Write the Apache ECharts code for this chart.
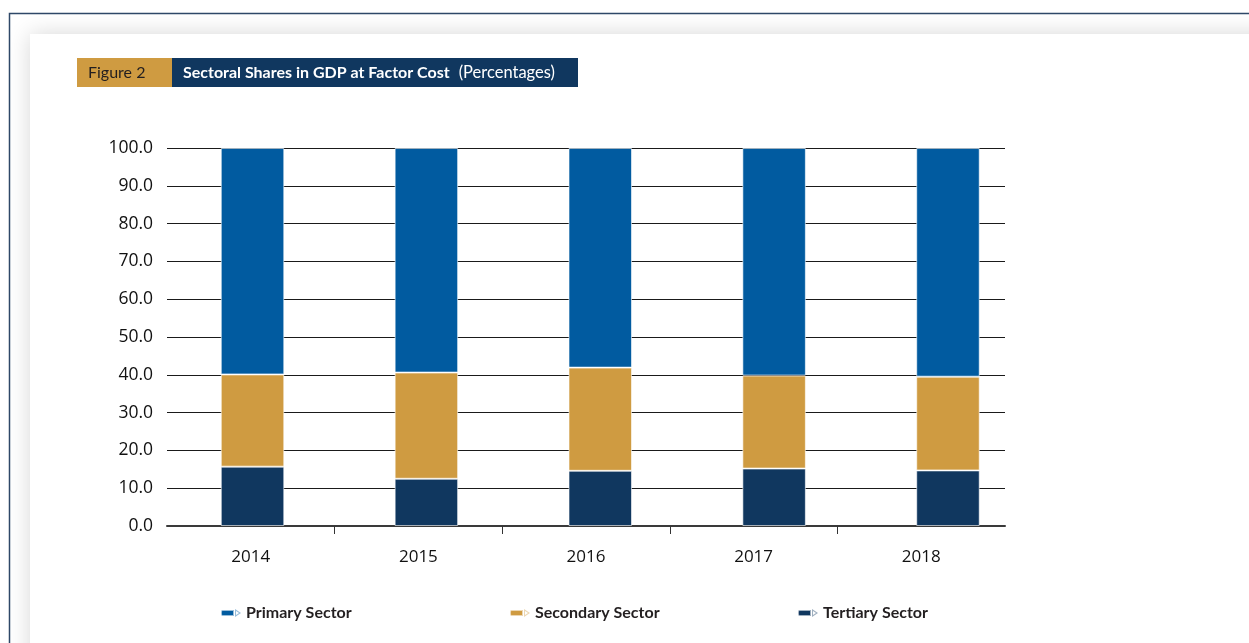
<!DOCTYPE html>
<html>
<head>
<meta charset="utf-8">
<script src="https://cdn.jsdelivr.net/npm/echarts@6/dist/echarts.min.js"></script>
<style>
    html, body { margin: 0; padding: 0; background: #fff; }
    #main { width: 1249px; height: 643px; }
</style>
</head>
<body>
<div id="main"></div>
<script>
var years = ['2014', '2015', '2016', '2017', '2018'];
var tertiary = [15.7, 12.5, 14.6, 15.2, 14.7];
var secondary = [24.4, 28.1, 27.3, 24.6, 24.8];
var primary = [59.9, 59.4, 58.1, 60.2, 60.5];
var legendNames = ['Primary Sector', 'Secondary Sector', 'Tertiary Sector'];
var tickSlots = ['', '', '', '', '', ''];   // boundaries between years

var cBlue = '#015ba0', cGold = '#cf9b41', cNavy = '#10375f';
var pencil = 'path://M1,1 L13,1 L13,7 L1,7 Q0,7 0,4 Q0,1 1,1 Z M14,0 L20,4 L14,8 Z M15,2 L15,6 L18,4 Z';

var chart = echarts.init(document.getElementById('main'));

function legendAt(name, left) {
    return {
        data: [name],
        left: left,
        top: 605,
        padding: 0,
        icon: pencil,
        itemWidth: 20,
        itemHeight: 9,
        itemGap: 5,
        textStyle: { fontFamily: 'Lato', fontWeight: 'bold', fontSize: 16, color: '#231f20' }
    };
}

var option = {
    animation: false,
    color: [cNavy, cGold, cBlue],
    graphic: [
        // outer frame + soft inner panel
        { type: 'rect', shape: { x: 9.5, y: 13.5, width: 1300, height: 700 },
          style: { fill: '#fff', stroke: '#2f4868', lineWidth: 1.5 }, z: -10 },
        { type: 'rect', shape: { x: 30, y: 34, width: 1300, height: 700 },
          style: { fill: '#fff', shadowBlur: 22, shadowColor: 'rgba(0,0,0,0.16)' }, z: -9 },
        // figure heading
        { type: 'rect', shape: { x: 77, y: 58, width: 95, height: 29 }, style: { fill: cGold } },
        { type: 'rect', shape: { x: 172, y: 58, width: 406, height: 29 }, style: { fill: cNavy } },
        { type: 'text', x: 88, y: 72.5,
          style: { text: 'Figure 2', fill: '#231f20', font: '16px Lato', verticalAlign: 'middle' } },
        { type: 'text', x: 183, y: 72.5,
          style: {
              text: '{b|Sectoral Shares in GDP at Factor Cost}{r|(Percentages)}',
              verticalAlign: 'middle',
              rich: {
                  b: { fill: '#fff', fontFamily: 'Lato', fontWeight: 'bold', fontSize: 16 },
                  r: { fill: '#fff', fontFamily: 'Lato', fontSize: 16.5, padding: [0, 0, 0, 9] }
              }
          } }
    ],
    legend: [
        legendAt(legendNames[0], 220),
        legendAt(legendNames[1], 509),
        legendAt(legendNames[2], 797)
    ],
    grid: [
        { left: 167, right: 244, top: 148, bottom: 117 },
        { left: 165.6, right: 214.1, top: 148, bottom: 117 }
    ],
    xAxis: [
        {
            type: 'category', gridIndex: 0, data: years,
            axisLine: { lineStyle: { color: '#3a3a3a', width: 2 } },
            axisTick: { show: false },
            axisLabel: { color: '#111', fontFamily: 'Open Sans', fontSize: 17, margin: 23 }
        },
        {
            type: 'category', gridIndex: 0, data: tickSlots, position: 'bottom', offset: 0,
            boundaryGap: false,
            axisLine: { show: false },
            axisLabel: { show: false },
            axisTick: {
                show: true, length: 8, inside: false,
                interval: function (i) { return i > 0 && i < tickSlots.length - 1; },
                lineStyle: { color: '#333', width: 1 }
            }
        },
        {
            type: 'category', gridIndex: 1, data: years, show: false
        }
    ],
    yAxis: [
        {
            type: 'value', gridIndex: 0, min: 0, max: 100, interval: 10,
            axisLine: { show: false },
            axisTick: { show: false },
            splitLine: { lineStyle: { color: '#1a1a1a', width: 1 } },
            axisLabel: {
                color: '#111', fontFamily: 'Open Sans', fontSize: 17.5, margin: 14,
                formatter: function (v) { return v.toFixed(1); }
            }
        },
        { type: 'value', gridIndex: 1, min: 0, max: 100, show: false }
    ],
    series: [
        { name: legendNames[2], type: 'bar', stack: 'gdp', xAxisIndex: 2, yAxisIndex: 1,
          barWidth: 63.5, data: tertiary, itemStyle: { color: cNavy, borderColor: 'rgba(255,255,255,0.6)', borderWidth: 1 } },
        { name: legendNames[1], type: 'bar', stack: 'gdp', xAxisIndex: 2, yAxisIndex: 1,
          barWidth: 63.5, data: secondary, itemStyle: { color: cGold, borderColor: 'rgba(255,255,255,0.6)', borderWidth: 1 } },
        { name: legendNames[0], type: 'bar', stack: 'gdp', xAxisIndex: 2, yAxisIndex: 1,
          barWidth: 63.5, data: primary, itemStyle: { color: cBlue, borderColor: 'rgba(255,255,255,0.6)', borderWidth: 1 } }
    ]
};

chart.setOption(option);
</script>
</body>
</html>
